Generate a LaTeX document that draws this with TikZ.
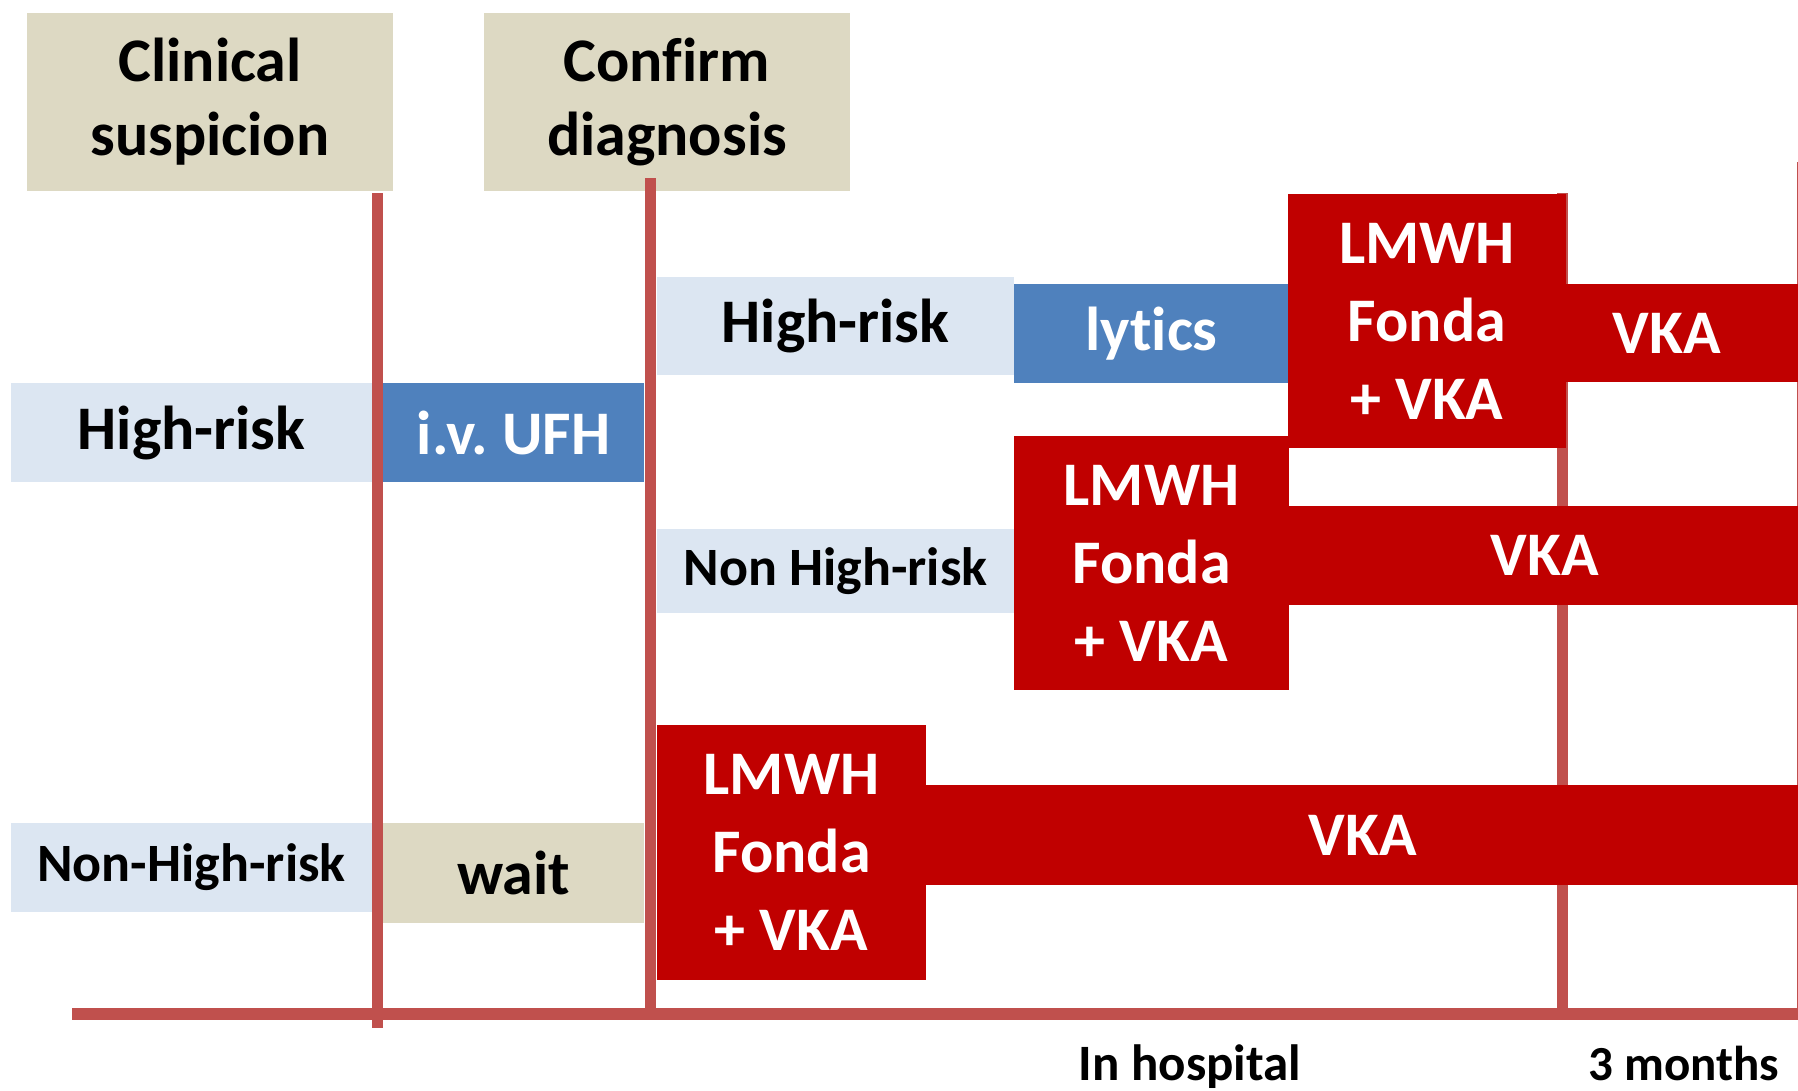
\documentclass[tikz,border=0pt]{standalone}
\usepackage{fontspec}
\setmainfont{Carlito}[Ligatures=NoCommon]
\frenchspacing
\definecolor{tanc}{HTML}{DDD9C3}
\definecolor{palec}{HTML}{DCE6F2}
\definecolor{steelc}{HTML}{4F81BD}
\definecolor{redc}{HTML}{C00000}
\definecolor{linec}{HTML}{C0504D}
\tikzset{
  cell/.style={inner sep=0pt, outer sep=0pt, align=center,
    font=\bfseries\fontsize{62}{74}\selectfont},
  tanbox/.style={cell, fill=tanc, text=black},
  palebox/.style={cell, fill=palec, text=black},
  smallpale/.style={palebox, font=\bfseries\fontsize{54}{64}\selectfont},
  bluebox/.style={cell, fill=steelc, text=white},
  redbox/.style={cell, fill=redc, text=white},
  lmbox/.style={redbox, font=\bfseries\fontsize{62}{78}\selectfont},
  tline/.style={draw=linec, line width=11pt},
  axisline/.style={draw=linec, line width=12pt},
  timelabel/.style={inner sep=0pt, anchor=base, font=\bfseries\fontsize{51}{62}\selectfont, text=black},
}
\begin{document}
\begin{tikzpicture}[x=1pt, y=-1pt]
\useasboundingbox[fill=white] (0,0) rectangle (1798,1090);
% timeline lines behind the boxes
\coordinate (a0) at (72,1014);
\coordinate (a1) at (1798,1014);
\coordinate (l3t) at (1562,193);
\coordinate (l3b) at (1562,1014);
\coordinate (l4t) at (1802,162);
\coordinate (l4b) at (1802,1014);
\draw[tline] (l3t) -- (l3b);
\draw[tline] (l4t) -- (l4b);
\draw[axisline] (a0) -- (a1);
% header boxes
\node[tanbox, minimum width=366pt, minimum height=178pt] (cs) at (210,102) {Clinical\\suspicion};
\node[tanbox, minimum width=366pt, minimum height=178pt] (cd) at (667,102) {Confirm\\diagnosis};
% left column
\node[palebox, minimum width=361pt, minimum height=99pt] (hr1) at (191.5,432.5) {High-risk};
\node[bluebox, minimum width=261pt, minimum height=99pt] (ufh) at (513.5,432.5) {i.v. UFH};
\node[smallpale, minimum width=361pt, minimum height=89pt] (nhr1) at (191.5,867.5) {Non-High-risk};
\node[tanbox, minimum width=261pt, minimum height=100pt] (wait) at (513.5,873) {wait};
% high-risk branch
\node[palebox, minimum width=357pt, minimum height=98pt] (hr2) at (835.5,326) {High-risk};
\node[bluebox, minimum width=275pt, minimum height=99pt] (lytics) at (1151.5,333.5) {lytics};
\node[redbox, minimum width=236pt, minimum height=98pt] (vka1bar) at (1684,333) {};
\node[lmbox, minimum width=278pt, minimum height=254pt] (lm1) at (1427,321) {LMWH\\Fonda\\+ VKA};
\node[inner sep=0pt, text=white, font=\bfseries\fontsize{62}{74}\selectfont] (vka1) at (1667,333) {VKA};
% non high-risk branch
\node[smallpale, minimum width=357pt, minimum height=84pt] (nhr2) at (835.5,571) {Non High-risk};
\node[redbox, minimum width=511pt, minimum height=99pt] (vka2) at (1544.5,555.5) {VKA};
\node[lmbox, minimum width=275pt, minimum height=254pt] (lm2) at (1151.5,563) {LMWH\\Fonda\\+ VKA};
% non-high-risk branch
\node[redbox, minimum width=874pt, minimum height=100pt] (vka3) at (1363,835) {VKA};
\node[lmbox, minimum width=269pt, minimum height=255pt] (lm3) at (791.5,852.5) {LMWH\\Fonda\\+ VKA};
% front timeline lines
\coordinate (l1t) at (377.5,193);
\coordinate (l1b) at (377.5,1028);
\coordinate (l2t) at (650,178);
\coordinate (l2b) at (650,1014);
\draw[tline] (l1t) -- (l1b);
\draw[tline] (l2t) -- (l2b);
% time labels
\node[timelabel] (inh) at (1190,1080) {In hospital};
\node[timelabel, font=\bfseries\fontsize{49}{60}\selectfont] (three) at (1684,1080) {3 months};
\end{tikzpicture}
\end{document}
